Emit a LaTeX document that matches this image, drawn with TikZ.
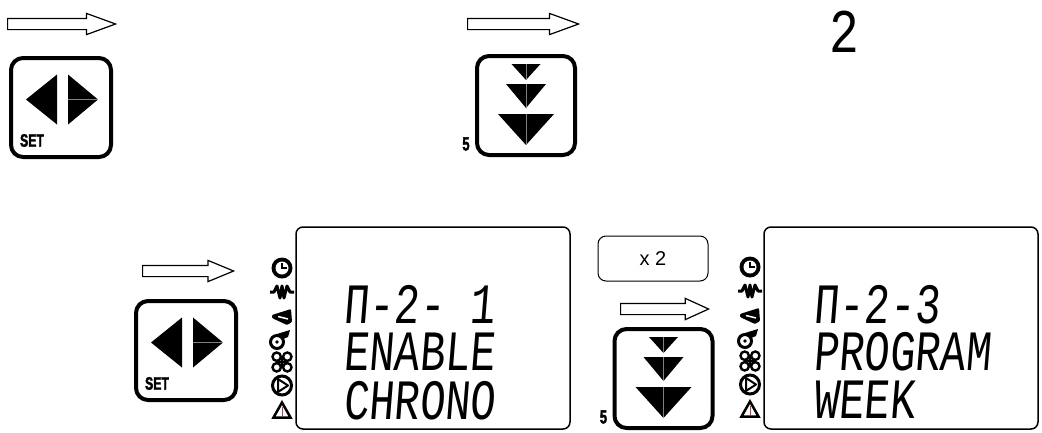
\documentclass[tikz,border=0pt]{standalone}
\usepackage{fontspec}
\setmainfont{Liberation Sans}
\newfontfamily\lcdfont[FakeStretch=0.74,FakeSlant=0.08]{Liberation Mono}
\newfontfamily\lcdflat[FakeStretch=0.8]{Liberation Mono}
\newfontfamily\keyfont[FakeStretch=0.68,BoldFeatures={FakeBold=2}]{Liberation Sans}
\usetikzlibrary{shapes.arrows}
\tikzset{
  blockarrow/.style={draw,fill=white,single arrow,anchor=tail,inner xsep=0pt,inner ysep=5pt,minimum width=20pt,
    single arrow head extend=5pt,single arrow tip angle=40,line width=1.2pt},
  lcdline/.style={anchor=base west,inner sep=0pt,font=\lcdfont\fontsize{57}{57}\selectfont},
  lcdscreen/.style={draw,line width=1.5pt,rounded corners=7pt},
  keylabel/.style={inner sep=0pt,font=\keyfont\bfseries\fontsize{18}{18}\selectfont},
  pics/setkey/.style={code={
    \draw[line width=4pt,rounded corners=12pt] (-50,-49.5) rectangle (50,49.5);
    \fill (-35,-8) -- (-4,-33) -- (-4,17) -- cycle;
    \fill (37,-8) -- (7,-33) -- (7,17) -- cycle;
    \draw[gray,line width=0.5pt] (7,-8) -- (37,-8);
    \node[keylabel] (-setlabel) at (-29,33) {SET};
  }},
  pics/downkey/.style={code={
    \draw[line width=4pt,rounded corners=12pt] (-49,-49.5) rectangle (49,49.5);
    \fill (-14.5,-41.5) -- (14.5,-41.5) -- (0,-25.5) -- cycle;
    \fill (-20,-21.5) -- (20,-21.5) -- (0,2.5) -- cycle;
    \fill (-28,8.5) -- (28,8.5) -- (0,39.5) -- cycle;
    \foreach \ya/\yb in {-41.5/-25.5,-21.5/2.5,8.5/39.5}
      \draw[gray,line width=0.4pt] (0,\ya) -- (0,\yb);
    \node[keylabel,font=\keyfont\bfseries\fontsize{19}{19}\selectfont] (-fivelabel) at (-60,38.5) {5};
  }},
  pics/lcdicons/.style={code={
    % clock
    \fill (0,-142) circle (10.5);
    \fill[white] (0,-142) circle (6.5);
    \draw[line width=1.8pt] (0,-147) -- (0,-142) -- (5,-142);
    % heater
    \draw[line width=3pt,line join=round] (-12,-118) -- (-8,-118) -- (-5,-124) -- (-2,-112) -- (0,-124) -- (2,-112) -- (5,-124) -- (8,-118) -- (12,-118);
    % burner
    \fill[rounded corners=1pt] (-10,-95) -- (9,-101) -- (10,-88) -- (5,-85) -- (-10,-92) -- cycle;
    \draw[white,line width=1.5pt] (-4,-93.5) -- (6,-91);
    % blower
    \draw[line width=3pt,fill=white] (-5,-68) circle (6.5);
    \fill (-5,-76) -- (8,-80) -- (6,-73) -- (1,-71) -- cycle;
    \fill (-5,-68) circle (1.8);
    % fan
    \foreach \sx/\sy in {-1/-1,1/-1,-1/1,1/1}
      \draw[line width=2.4pt,fill=white] (\sx*5.3,-48+\sy*5.3) circle (4.2);
    \draw[line width=1.5pt] (-6,-48) -- (6,-48) (0,-54) -- (0,-42);
    % pump
    \draw[line width=3pt,fill=white] (0,-24.5) circle (9.5);
    \draw[line width=2pt,line join=round] (-4,-31) -- (6,-24.5) -- (-4,-18) -- cycle;
    % alarm
    \draw[line width=2.5pt,line join=miter,fill=white] (0,-7.5) -- (8.5,7.5) -- (-8.5,7.5) -- cycle;
    \draw[red!50!gray,line width=0.6pt] (0,-3) -- (0,6);
  }}
}
\begin{document}
\begin{tikzpicture}[x=1pt,y=-1pt]
\useasboundingbox (0,0) rectangle (1042,432);
% top row
\node[blockarrow,minimum height=108pt] (arrowa) at (7,24) {};
\pic (keya) at (61,107.5) {setkey};
\node[blockarrow,minimum height=111pt] (arrowb) at (467,24) {};
\pic (keyb) at (526,105.5) {downkey};
\node[anchor=base,inner sep=0pt,font=\lcdflat\fontsize{62}{62}\selectfont] (digit) at (844,52) {2};
% bottom row
\node[blockarrow,minimum height=91pt,single arrow tip angle=45] (arrowc) at (142,271) {};
\pic (keyc) at (186,350.5) {setkey};
\pic (iconsa) at (282,410) {lcdicons};
\draw[lcdscreen] (296,227) rectangle (570,429);
\node[lcdline] (linea) at (343,323) {Π-2- 1};
\node[lcdline] (lineb) at (343,370) {ENABLE};
\node[lcdline] (linec) at (343,419) {CHRONO};
\node[draw,line width=1pt,rounded corners=8pt,minimum width=110pt,minimum height=45pt,inner sep=0pt,font=\fontsize{20}{20}\selectfont] (times) at (653,258.5) {x 2\hspace{9pt}};
\node[blockarrow,minimum height=88pt,single arrow tip angle=49] (arrowd) at (620,309) {};
\pic (keyd) at (663.5,378.5) {downkey};
\pic (iconsb) at (750,409) {lcdicons};
\draw[lcdscreen] (764,227) rectangle (1038,429);
\node[lcdline] (lined) at (813,323) {Π-2-3};
\node[lcdline] (linee) at (813,370) {PROGRAM};
\node[lcdline] (linef) at (813,418) {WEEK};
\end{tikzpicture}
\end{document}
